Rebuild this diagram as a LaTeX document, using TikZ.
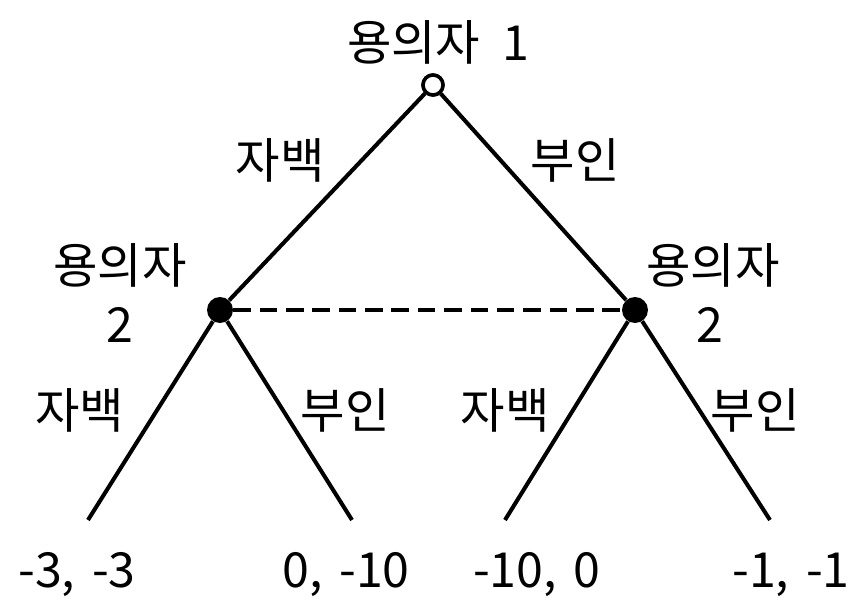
\documentclass[tikz,border=0pt]{standalone}
\usepackage{fontspec}
\setmainfont{Noto Sans CJK KR}
\usetikzlibrary{positioning,calc}

\begin{document}
\begin{tikzpicture}[
    x=0.02cm, y=-0.02cm,
    lbl/.style={font=\fontsize{27.5}{32}\selectfont, inner sep=0pt},
    branch/.style={line width=2.3pt},
    opennode/.style={circle, draw, line width=2pt, fill=white, minimum size=0.4cm, inner sep=0pt},
    decnode/.style={circle, fill=black, minimum size=0.52cm, inner sep=0pt}
]
    \useasboundingbox (0,0) rectangle (850,609);

    % Decision nodes
    \node[opennode] (root) at (433,85) {};
    \node[decnode] (p2l) at (220,310) {};
    \node[decnode] (p2r) at (635,310) {};

    % Leaves
    \coordinate (ll) at (88,520);
    \coordinate (lr) at (352,520);
    \coordinate (rl) at (505,520);
    \coordinate (rr) at (770,520);

    % Edges
    \draw[branch] (root) -- (p2l);
    \draw[branch] (root) -- (p2r);
    \draw[branch] (p2l) -- (ll);
    \draw[branch] (p2l) -- (lr);
    \draw[branch] (p2r) -- (rl);
    \draw[branch] (p2r) -- (rr);
    \draw[branch, line width=2pt, dash pattern=on 10pt off 5pt] (p2l) -- (p2r);
    \node[opennode] at (root) {};

    % Player labels
    \node[lbl] (p1name) at (438,42) {용의자\hspace{0.45em}1};
    \node[lbl] (p2lname) at (120,265) {용의자};
    \node[lbl] (p2lnum) at (120,325) {2};
    \node[lbl] (p2rname) at (713,265) {용의자};
    \node[lbl] (p2rnum) at (710,325) {2};

    % Action labels
    \node[lbl] (a1) at (280,160) {자백};
    \node[lbl] (a2) at (575,160) {부인};
    \node[lbl] (a3) at (80,410) {자백};
    \node[lbl] (a4) at (345,410) {부인};
    \node[lbl] (a5) at (505,410) {자백};
    \node[lbl] (a6) at (755,410) {부인};

    % Payoffs
    \node[lbl] (u1) at (77,575) {-3,\hspace{0.35em}-3};
    \node[lbl] (u2) at (346,575) {0,\hspace{0.35em}-10};
    \node[lbl] (u3) at (537,575) {-10,\hspace{0.35em}0};
    \node[lbl] (u4) at (791,575) {-1,\hspace{0.35em}-1};
\end{tikzpicture}
\end{document}
